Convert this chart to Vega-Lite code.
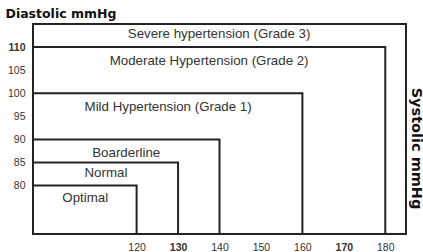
{
  "$schema": "https://vega.github.io/schema/vega-lite/v6.json",
  "autosize": "none",
  "width": 373,
  "height": 210,
  "padding": {"left": 33, "top": 24, "right": 17, "bottom": 18},
  "background": "white",
  "config": {
    "view": {"stroke": null},
    "font": "Liberation Sans",
    "axis": {"domain": false, "ticks": false, "grid": false, "labelFontSize": 10.5, "labelColor": "#333", "labelPadding": 8, "labelOverlap": false,
      "titleFont": "DejaVu Sans", "titleFontWeight": "bold", "titleFontSize": 12.5, "titleColor": "#111"}
  },
  "data": {"values": [
    {"name": "Optimal", "sys": 120, "dia": 80, "lx": 107.6, "ly": 77.4},
    {"name": "Normal", "sys": 130, "dia": 85, "lx": 112.6, "ly": 82.7},
    {"name": "Boarderline", "sys": 140, "dia": 90, "lx": 117.5, "ly": 87.1},
    {"name": "Mild Hypertension (Grade 1)", "sys": 160, "dia": 100, "lx": 127.6, "ly": 97.1},
    {"name": "Moderate Hypertension (Grade 2)", "sys": 180, "dia": 110, "lx": 137.5, "ly": 107},
    {"name": "Severe hypertension (Grade 3)", "sys": 185, "dia": 115, "lx": 139.9, "ly": 112.8}
  ]},
  "encoding": {
    "x": {"type": "quantitative",
      "scale": {"domain": [95, 185], "nice": false, "zero": false},
      "axis": {"values": [120, 130, 140, 150, 160, 170, 180], "labelOverlap": false,
        "labelFontWeight": {"condition": {"test": "datum.value == 130 || datum.value == 170", "value": "bold"}, "value": "normal"},
        "title": "Systolic mmHg", "titleAngle": 90, "titleX": 382, "titleY": -86, "titleAlign": "center", "titleBaseline": "middle", "titleFontSize": 14.5}},
    "y": {"type": "quantitative",
      "scale": {"domain": [69.5, 115], "nice": false, "zero": false},
      "axis": {"values": [80, 85, 90, 95, 100, 105, 110], "labelOverlap": false,
        "labelFontWeight": {"condition": {"test": "datum.value == 110", "value": "bold"}, "value": "normal"},
        "title": "Diastolic mmHg", "titleAngle": 0, "titleX": -28, "titleY": -7, "titleAlign": "left", "titleBaseline": "alphabetic"}}
  },
  "layer": [
    {
      "mark": {"type": "rect", "fill": null, "filled": false, "stroke": "#222", "strokeWidth": 2, "clip": false},
      "encoding": {
        "x": {"field": "sys"},
        "x2": {"datum": 95},
        "y": {"field": "dia"},
        "y2": {"datum": 69.5}
      }
    },
    {
      "mark": {"type": "text", "fontSize": 13.3, "color": "#333", "align": "center", "baseline": "middle"},
      "encoding": {
        "x": {"field": "lx"},
        "y": {"field": "ly"},
        "text": {"field": "name"}
      }
    }
  ]
}
